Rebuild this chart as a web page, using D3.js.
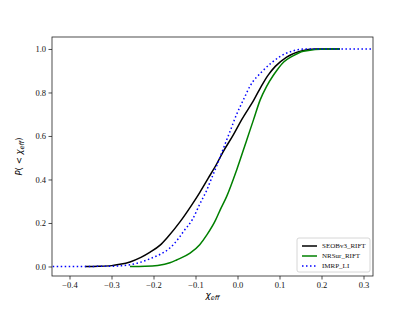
<!DOCTYPE html>
<html>
<head>
<meta charset="utf-8">
<script src="https://cdn.jsdelivr.net/npm/d3@7"></script>
<style>
  body { margin: 0; background: #fff; }
  svg { display: block; }
</style>
</head>
<body>
<div id="chart"></div>
<script>
// ── Data (cumulative distributions) ──────────────────────────────────────
const seobX = [-0.363, -0.33, -0.30, -0.28, -0.256, -0.23, -0.208, -0.185, -0.165, -0.137, -0.11, -0.09, -0.07, -0.05, -0.035, -0.01, 0.01, 0.039, 0.06, 0.073, 0.09, 0.117, 0.15, 0.186, 0.244];
const seobP = [0, 0.001, 0.004, 0.01, 0.021, 0.042, 0.066, 0.097, 0.138, 0.205, 0.28, 0.34, 0.405, 0.47, 0.525, 0.605, 0.675, 0.766, 0.84, 0.88, 0.92, 0.963, 0.99, 1.0, 1.0];

const nrsurX = [-0.256, -0.22, -0.19, -0.161, -0.145, -0.113, -0.09, -0.073, -0.052, -0.042, -0.026, -0.002, 0.022, 0.038, 0.054, 0.069, 0.085, 0.093, 0.11, 0.129, 0.157, 0.212, 0.244];
const nrsurP = [0, 0.001, 0.005, 0.017, 0.03, 0.061, 0.1, 0.145, 0.214, 0.257, 0.321, 0.444, 0.582, 0.674, 0.766, 0.827, 0.878, 0.9, 0.94, 0.965, 0.99, 1.0, 1.0];

const imrpX = [-0.44, -0.30, -0.28, -0.256, -0.23, -0.208, -0.185, -0.161, -0.14, -0.129, -0.108, -0.089, -0.073, -0.065, -0.042, -0.035, -0.018, -0.002, 0.014, 0.03, 0.058, 0.08, 0.101, 0.13, 0.165, 0.32];
const imrpP = [0, 0.001, 0.003, 0.008, 0.02, 0.036, 0.055, 0.085, 0.13, 0.16, 0.214, 0.29, 0.352, 0.39, 0.5, 0.536, 0.62, 0.7, 0.766, 0.83, 0.895, 0.935, 0.965, 0.99, 1.0, 1.0];

const xTicks = [-0.4, -0.3, -0.2, -0.1, 0.0, 0.1, 0.2, 0.3];
const yTicks = [0.0, 0.2, 0.4, 0.6, 0.8, 1.0];

const series = [
  { name: "SEOBv3_RIFT", xs: seobX, ps: seobP, color: "#000000", dash: null },
  { name: "NRSur_RIFT", xs: nrsurX, ps: nrsurP, color: "#008000", dash: null },
  { name: "IMRP_LI", xs: imrpX, ps: imrpP, color: "#0000ff", dash: "1.5,2.5" }
];

// ── Layout ───────────────────────────────────────────────────────────────
const W = 415, H = 311;
const plotL = 52, plotR = 373, plotT = 37, plotB = 276;

const svg = d3.select("#chart").append("svg").attr("width", W).attr("height", H);

const x = d3.scaleLinear().domain([-0.4417, 0.3226]).range([plotL, plotR]);
const y = d3.scaleLinear().domain([-0.0437, 1.055]).range([plotB, plotT]);

const tickFont = "'Liberation Serif', 'Times New Roman', serif";

// ── Curves ───────────────────────────────────────────────────────────────
const line = d3.line().x(d => x(d[0])).y(d => y(d[1])).curve(d3.curveMonotoneX);

svg.append("g").selectAll("path")
  .data(series).join("path")
  .attr("d", s => line(s.xs.map((v, i) => [v, s.ps[i]])))
  .attr("fill", "none")
  .attr("stroke", s => s.color)
  .attr("stroke-width", 1.5)
  .attr("stroke-dasharray", s => s.dash);

// ── Axes ─────────────────────────────────────────────────────────────────
const xAxis = svg.append("g").attr("transform", `translate(0,${plotB})`)
  .call(d3.axisBottom(x).tickValues(xTicks).tickSize(3.5).tickPadding(2)
    .tickFormat(d => d3.format(".1f")(d).replace("-", "\u2212")));

const yAxis = svg.append("g").attr("transform", `translate(${plotL},0)`)
  .call(d3.axisLeft(y).tickValues(yTicks).tickSize(3.5).tickPadding(2.5)
    .tickFormat(d3.format(".1f")));

[xAxis, yAxis].forEach(a => {
  a.select(".domain").remove();
  a.selectAll("line").attr("stroke", "#222").attr("stroke-width", 0.8);
  a.selectAll("text").attr("font-family", tickFont).attr("font-size", 8.5).attr("fill", "#111");
});

svg.append("rect")
  .attr("x", plotL).attr("y", plotT)
  .attr("width", plotR - plotL).attr("height", plotB - plotT)
  .attr("fill", "none").attr("stroke", "#222").attr("stroke-width", 0.8);

// ── Axis labels ──────────────────────────────────────────────────────────
const xLabel = svg.append("text")
  .attr("x", (plotL + plotR) / 2).attr("y", 298)
  .attr("text-anchor", "middle")
  .attr("font-family", "'DejaVu Sans', sans-serif").attr("font-size", 9)
  .attr("font-style", "italic");
xLabel.append("tspan").text("\u03c7");
xLabel.append("tspan").attr("font-size", 6.5).attr("dy", 2).text("eff");

const yLabel = svg.append("text")
  .attr("transform", `translate(22,${(plotT + plotB) / 2}) rotate(-90)`)
  .attr("text-anchor", "middle")
  .attr("font-family", "'DejaVu Sans', sans-serif").attr("font-size", 8.5);
yLabel.append("tspan").attr("font-style", "italic").text("P");
yLabel.append("tspan").text("( < ");
yLabel.append("tspan").attr("font-style", "italic").text("\u03c7");
yLabel.append("tspan").attr("font-style", "italic").attr("font-size", 6.5).attr("dy", 2).text("eff");
yLabel.append("tspan").attr("dy", -2).text(")");

// ── Legend ───────────────────────────────────────────────────────────────
const legend = svg.append("g").attr("transform", "translate(297,238)");
legend.append("rect")
  .attr("width", 73).attr("height", 34).attr("rx", 2)
  .attr("fill", "#fff").attr("stroke", "#ccc").attr("stroke-width", 0.8);

const rows = legend.selectAll("g.row")
  .data(series).join("g")
  .attr("class", "row")
  .attr("transform", (d, i) => `translate(0,${8 + i * 10})`);

rows.append("line")
  .attr("x1", 5).attr("x2", 20)
  .attr("stroke", d => d.color).attr("stroke-width", 1.5)
  .attr("stroke-dasharray", d => d.dash);

rows.append("text")
  .attr("x", 25).attr("dy", "0.35em")
  .attr("font-family", tickFont).attr("font-size", 7)
  .attr("fill", "#111")
  .text(d => d.name);
</script>
</body>
</html>
